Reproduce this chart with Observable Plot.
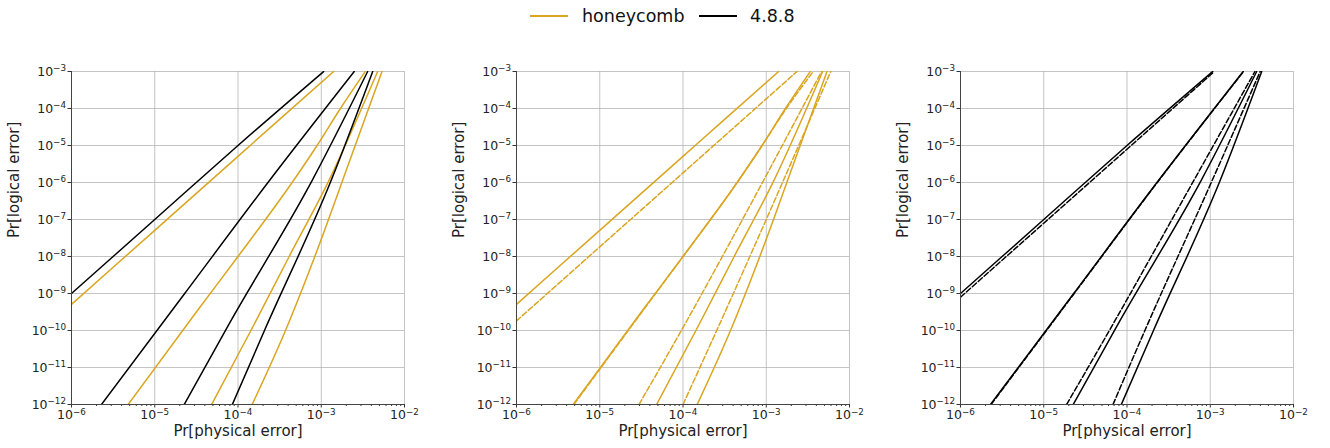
<!DOCTYPE html>
<html>
<head>
<meta charset="utf-8">
<script src="https://cdn.jsdelivr.net/npm/d3@7"></script>
<script src="https://cdn.jsdelivr.net/npm/@observablehq/plot@0.6"></script>
<style>
  html, body { margin: 0; padding: 0; background: #fff; }
  body { width: 1330px; height: 448px; position: relative; overflow: hidden; font-family: "DejaVu Sans", sans-serif; }
  #legend { position: absolute; left: 0; top: 0; width: 1330px; height: 50px; font-size: 17.5px; color: #111; }
  #legend .sw { position: absolute; top: 15px; width: 38px; height: 2px; }
  #legend .lb { position: absolute; top: 5px; line-height: 22px; white-space: nowrap; }
  .panel { position: absolute; top: 50px; }
</style>
</head>
<body>
<div id="legend">
  <div class="sw" style="left:530px;background:#daa520"></div>
  <div class="lb" style="left:582px">honeycomb</div>
  <div class="sw" style="left:699px;background:#000"></div>
  <div class="lb" style="left:750px">4.8.8</div>
</div>
<div id="p1" class="panel" style="left:0px"></div>
<div id="p2" class="panel" style="left:445px"></div>
<div id="p3" class="panel" style="left:889px"></div>
<script>
// ---- tick values ----
const xTicks = [1e-6, 1e-5, 1e-4, 1e-3, 1e-2];
const yTicks = [1e-12, 1e-11, 1e-10, 1e-9, 1e-8, 1e-7, 1e-6, 1e-5, 1e-4, 1e-3];
const xLabel = "Pr[physical error]";
const yLabel = "Pr[logical error]";

// ---- honeycomb (solid) : [physical error, logical error] ----
const honeycomb1 = [[1e-6, 5.1e-10], [1e-5, 5.1e-8], [1e-4, 5.1e-6], [3.16e-4, 5.1e-5], [1.41e-3, 1e-3]];
const honeycomb2 = [[4.79e-6, 1e-12], [3.16e-5, 3.16e-10], [1e-4, 1e-8], [4.47e-4, 1e-6], [8.91e-4, 1e-5], [1.70e-3, 1e-4], [3.38e-3, 1e-3]];
const honeycomb3 = [[4.82e-5, 1e-12], [1.43e-4, 1e-10], [4.12e-4, 1e-8], [1.23e-3, 1.11e-6], [4.76e-3, 1e-3]];
const honeycomb4 = [[1.48e-4, 1e-12], [3.72e-4, 1e-10], [8.91e-4, 1.45e-8], [2.19e-3, 3.8e-6], [5.37e-3, 1e-3]];

// ---- honeycomb (dashed variant) ----
const honeycombAlt1 = [[1e-6, 1.82e-10], [1e-5, 1.82e-8], [1e-4, 1.82e-6], [2.34e-3, 1e-3]];
const honeycombAlt2 = [[4.90e-6, 1e-12], [3.16e-5, 3.02e-10], [1e-4, 1e-8], [4.47e-4, 1e-6], [8.91e-4, 1e-5], [1.74e-3, 1e-4], [3.67e-3, 1e-3]];
const honeycombAlt3 = [[2.96e-5, 1e-12], [1e-4, 1.20e-10], [9.23e-4, 1.11e-6], [4.62e-3, 1e-3]];
const honeycombAlt4 = [[1e-4, 1e-12], [2.54e-4, 1e-10], [1.60e-3, 1.11e-6], [5.96e-3, 1e-3]];

// ---- 4.8.8 (solid) ----
const octagon1 = [[1e-6, 1e-9], [1e-5, 1e-7], [1e-4, 1e-5], [1.07e-3, 1e-3]];
const octagon2 = [[2.29e-6, 1e-12], [2.29e-5, 1e-9], [2.29e-4, 1e-6], [2.49e-3, 1e-3]];
const octagon3 = [[2.26e-5, 1e-12], [8.20e-5, 1.82e-10], [7.73e-4, 1.11e-6], [3.61e-3, 1e-3]];
const octagon4 = [[8.55e-5, 1e-12], [2.08e-4, 1e-10], [1.31e-3, 1.11e-6], [4.15e-3, 1e-3]];

// ---- 4.8.8 (dashed variant) ----
const octagonAlt1 = [[1e-6, 7.94e-10], [1e-5, 7.94e-8], [1e-4, 7.94e-6], [1.12e-3, 1e-3]];
const octagonAlt2 = [[2.33e-6, 1e-12], [2.32e-5, 1e-9], [2.31e-4, 1e-6], [2.51e-3, 1e-3]];
const octagonAlt3 = [[1.88e-5, 1e-12], [6.14e-5, 1e-10], [6.31e-4, 1.11e-6], [3.44e-3, 1e-3]];
const octagonAlt4 = [[6.79e-5, 1e-12], [1.64e-4, 1e-10], [1.05e-3, 1.11e-6], [3.98e-3, 1e-3]];

const GOLD = "#daa520";
const BLACK = "#000000";

const minorTicks = [];
for (let e = -6; e < -2; e++) for (let m = 2; m <= 9; m++) minorTicks.push(m * Math.pow(10, e));

function lineMark(data, color, dashed) {
  return Plot.line(data, {
    x: d => d[0], y: d => d[1], stroke: color, strokeWidth: 1.5,
    strokeDasharray: dashed ? "5.5,2.4" : null, curve: "monotone-x", clip: true
  });
}

function panel(lines) {
  return Plot.plot({
    width: 440, height: 398,
    marginLeft: 71, marginRight: 36, marginTop: 21, marginBottom: 44,
    x: {type: "log", domain: [1e-6, 1e-2]},
    y: {type: "log", domain: [1e-12, 1e-3]},
    style: {fontFamily: "DejaVu Sans, sans-serif", background: "transparent", color: "#222", overflow: "visible"},
    marks: [
      Plot.gridX(xTicks, {stroke: "#b0b0b0", strokeOpacity: 0.75, strokeWidth: 1}),
      Plot.gridY(yTicks, {stroke: "#b0b0b0", strokeOpacity: 0.75, strokeWidth: 1}),
      ...lines,
      Plot.axisX(minorTicks, {tickSize: 2, tickFormat: () => "", label: null, stroke: "#333"}),
      Plot.axisX(xTicks, {tickSize: 3.5, tickPadding: 2.5, fontSize: 12.5, label: null, stroke: "#333",
        tickFormat: d => "10^" + Math.round(Math.log10(d))}),
      Plot.axisY(yTicks, {tickSize: 3.5, tickPadding: 2, fontSize: 12.5, label: null, stroke: "#333",
        tickFormat: d => "10^" + Math.round(Math.log10(d))}),
      Plot.ruleX([1e-6], {stroke: "#444", strokeWidth: 1}),
      Plot.ruleY([1e-12], {stroke: "#444", strokeWidth: 1}),
      Plot.text([xLabel], {text: d => d, frameAnchor: "bottom", dy: 31, fontSize: 15, fill: "#222"}),
      Plot.text([yLabel], {text: d => d, frameAnchor: "left", dx: -57, rotate: -90, fontSize: 15, fill: "#222"})
    ]
  });
}

function superscripts(svg) {
  svg.querySelectorAll("text").forEach(t => {
    const s = t.textContent;
    if (!s.startsWith("10^")) return;
    const e = s.slice(3).replace("-", "\u2212");
    t.textContent = "";
    const ns = "http://www.w3.org/2000/svg";
    const a = document.createElementNS(ns, "tspan"); a.textContent = "10"; t.appendChild(a);
    const b = document.createElementNS(ns, "tspan"); b.textContent = e;
    b.setAttribute("font-size", "0.7em"); b.setAttribute("dy", "-0.5em"); t.appendChild(b);
  });
  return svg;
}

const p1 = panel([
  lineMark(honeycomb1, GOLD), lineMark(honeycomb2, GOLD), lineMark(honeycomb3, GOLD), lineMark(honeycomb4, GOLD),
  lineMark(octagon1, BLACK), lineMark(octagon2, BLACK), lineMark(octagon3, BLACK), lineMark(octagon4, BLACK)
]);
const p2 = panel([
  lineMark(honeycomb1, GOLD), lineMark(honeycomb2, GOLD), lineMark(honeycomb3, GOLD), lineMark(honeycomb4, GOLD),
  lineMark(honeycombAlt1, GOLD, true), lineMark(honeycombAlt2, GOLD, true), lineMark(honeycombAlt3, GOLD, true), lineMark(honeycombAlt4, GOLD, true)
]);
const p3 = panel([
  lineMark(octagon1, BLACK), lineMark(octagon2, BLACK), lineMark(octagon3, BLACK), lineMark(octagon4, BLACK),
  lineMark(octagonAlt1, BLACK, true), lineMark(octagonAlt2, BLACK, true), lineMark(octagonAlt3, BLACK, true), lineMark(octagonAlt4, BLACK, true)
]);
document.getElementById("p1").appendChild(superscripts(p1));
document.getElementById("p2").appendChild(superscripts(p2));
document.getElementById("p3").appendChild(superscripts(p3));
</script>
</body>
</html>
